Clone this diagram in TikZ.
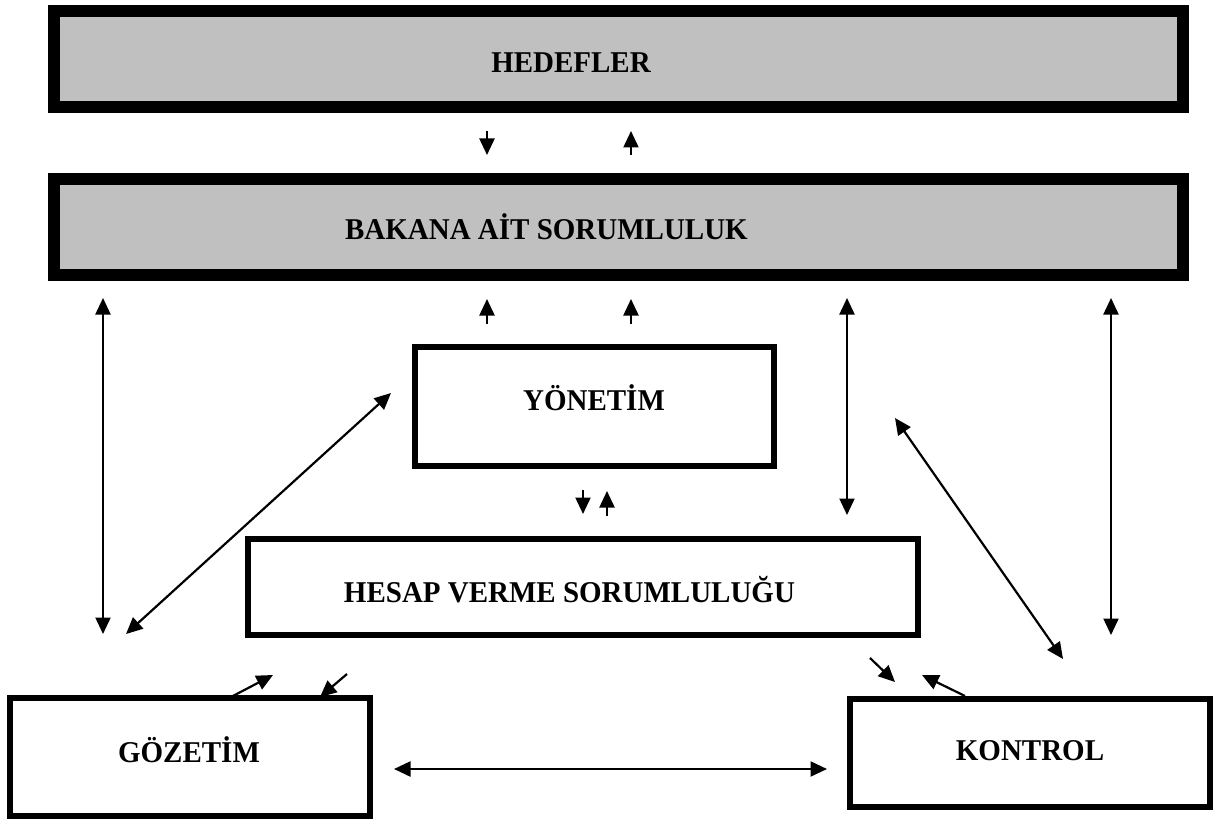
\documentclass[tikz,border=0pt]{standalone}
\usepackage{fontspec}
\setmainfont{Liberation Serif}[FakeStretch=0.96]
\usetikzlibrary{arrows.meta}
\definecolor{boxgray}{RGB}{192,192,192}
\begin{document}
\begin{tikzpicture}[x=1pt,y=-1pt,
  graybox/.style={draw, line width=12pt, fill=boxgray, inner sep=0pt},
  whitebox/.style={draw, line width=6.2pt, fill=white, inner sep=0pt},
  lbl/.style={font=\fontsize{30.2}{35}\selectfont\bfseries, inner sep=0pt, anchor=base},
  arr/.style={line width=2.2pt, -{Triangle[length=16.5pt,width=15pt]}},
  darr/.style={line width=2.2pt, {Triangle[length=16.5pt,width=15pt]}-{Triangle[length=16.5pt,width=15pt]}},
]
\useasboundingbox (0,0) rectangle (1218,821);
\fill[white] (0,0) rectangle (1218,821);

% boxes
\node[graybox, minimum width=1129pt, minimum height=96pt] (hed) at (618.5,59) {};
\node[graybox, minimum width=1129pt, minimum height=96pt] (bak) at (618.5,227) {};
\node[whitebox, minimum width=359pt, minimum height=119pt] (yon) at (594.5,406.5) {};
\node[whitebox, minimum width=670pt, minimum height=96pt] (hes) at (583,587) {};
\node[whitebox, minimum width=359.5pt, minimum height=117.5pt] (goz) at (190,757) {};
\node[whitebox, minimum width=359.5pt, minimum height=107.5pt] (kon) at (1030,753) {};

% texts
\node[lbl] (thed) at (571,73) {HEDEFLER};
\node[lbl] (tbak) at (546.5,240) {BAKANA AİT SORUMLULUK};
\node[lbl] (tyon) at (594,410) {YÖNETİM};
\node[lbl] (thes) at (569.5,602) {HESAP VERME SORUMLULUĞU};
\node[lbl] (tgoz) at (189,762) {GÖZETİM};
\node[lbl] (tkon) at (1030,760) {KONTROL};

% arrow end points
\coordinate (a1s) at (487,131); \coordinate (a1e) at (487,155);
\coordinate (a2s) at (631,155); \coordinate (a2e) at (631,131);
\coordinate (a3s) at (487,324); \coordinate (a3e) at (487,299);
\coordinate (a4s) at (631,324); \coordinate (a4e) at (631,299);
\coordinate (lv1) at (103,298); \coordinate (lv2) at (103,634);
\coordinate (ld1) at (126,634); \coordinate (ld2) at (391,393);
\coordinate (rv1) at (847,298); \coordinate (rv2) at (847,515);
\coordinate (rw1) at (1111,298); \coordinate (rw2) at (1111,635);
\coordinate (rd1) at (895,418); \coordinate (rd2) at (1063,659);
\coordinate (m1s) at (583,490); \coordinate (m1e) at (583,514);
\coordinate (m2s) at (607,516); \coordinate (m2e) at (607,491);
\coordinate (g1s) at (231,697); \coordinate (g1e) at (273,675);
\coordinate (g2s) at (347,674); \coordinate (g2e) at (320,697);
\coordinate (k1s) at (870,658); \coordinate (k1e) at (895,682);
\coordinate (k2s) at (965,696); \coordinate (k2e) at (922,675);
\coordinate (hz1) at (394,769); \coordinate (hz2) at (827,769);

% arrows
\draw[arr] (a1s) -- (a1e);
\draw[arr] (a2s) -- (a2e);
\draw[arr] (a3s) -- (a3e);
\draw[arr] (a4s) -- (a4e);
\draw[darr] (lv1) -- (lv2);
\draw[darr] (ld1) -- (ld2);
\draw[darr] (rv1) -- (rv2);
\draw[darr] (rw1) -- (rw2);
\draw[darr] (rd1) -- (rd2);
\draw[arr] (m1s) -- (m1e);
\draw[arr] (m2s) -- (m2e);
\draw[arr] (g1s) -- (g1e);
\draw[arr] (g2s) -- (g2e);
\draw[arr] (k1s) -- (k1e);
\draw[arr] (k2s) -- (k2e);
\draw[darr] (hz1) -- (hz2);
\end{tikzpicture}
\end{document}
